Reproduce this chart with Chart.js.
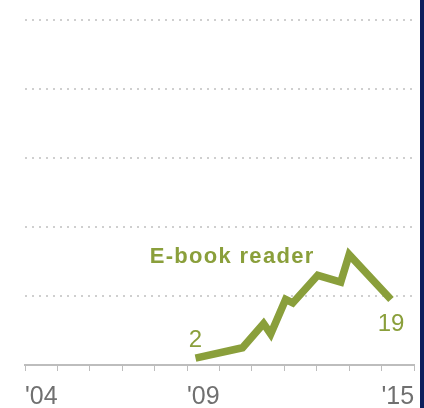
<!DOCTYPE html>
<html>
<head>
<meta charset="utf-8">
<script src="https://cdn.jsdelivr.net/npm/chart.js@4.4.1/dist/chart.umd.min.js"></script>
<style>
  html, body { margin: 0; padding: 0; background: #fff; overflow: hidden; }
  #wrap { position: relative; width: 424px; height: 408px; overflow: hidden; }
  #chart { position: absolute; left: 0; top: 0; }
  #edge { position: absolute; right: 0; top: 0; width: 4px; height: 408px; background: #0c1f5c; }
</style>
</head>
<body>
<div id="wrap">
  <canvas id="chart" width="424" height="408"></canvas>
  <div id="edge"></div>
</div>
<script>
// survey dates (fractional years) and share of adults owning an e-book reader (%)
var surveyYears = [2009.26, 2010.71, 2011.36, 2011.58, 2012.04, 2012.26, 2013.03, 2013.74, 2014.0, 2015.29];
var ereaderShare = [2, 5, 12, 9, 19, 18, 26, 24, 32, 19];
var yearTicks = { 2004: "'04", 2009: "'09", 2015: "'15" };
var seriesName = "E-book reader";

var green = "#8a9f3b";
var fontFamily = '"Liberation Sans", Arial, sans-serif';

var labelPlugin = {
    id: "endLabels",
    afterDatasetsDraw: function (chart) {
        var ctx = chart.ctx;
        var xs = chart.scales.x;
        var ys = chart.scales.y;
        var last = surveyYears.length - 1;
        ctx.save();
        ctx.fillStyle = green;
        ctx.textAlign = "center";
        ctx.textBaseline = "alphabetic";
        ctx.font = "24px " + fontFamily;
        ctx.fillText(String(ereaderShare[0]),
            xs.getPixelForValue(surveyYears[0]), ys.getPixelForValue(ereaderShare[0]) - 11);
        ctx.fillText(String(ereaderShare[last]),
            xs.getPixelForValue(surveyYears[last]), ys.getPixelForValue(ereaderShare[last]) + 32);
        ctx.font = "bold 22px " + fontFamily;
        ctx.letterSpacing = "1.3px";
        ctx.fillText(seriesName, xs.getPixelForValue(2010.39), ys.getPixelForValue(29.6));
        ctx.restore();
    }
};

var points = surveyYears.map(function (yr, i) {
    return { x: yr, y: ereaderShare[i] };
});

new Chart(document.getElementById("chart").getContext("2d"), {
    type: "line",
    data: {
        datasets: [{
            label: seriesName,
            data: points,
            borderColor: green,
            borderWidth: 7.5,
            pointRadius: 0,
            tension: 0,
            fill: false,
        }],
    },
    options: {
        responsive: false,
        animation: false,
        layout: { padding: { left: 25, right: 10, top: 20, bottom: 0 } },
        plugins: {
            legend: { display: false },
            tooltip: { enabled: false },
        },
        scales: {
            x: {
                type: "linear",
                min: 2004,
                max: 2016,
                afterFit: function (scale) {
                    // fixed axis band so the baseline sits where the original has it
                    scale.height = 43;
                    scale.paddingLeft = 0;
                    scale.paddingRight = 0;
                },
                ticks: {
                    stepSize: 1,
                    autoSkip: false,
                    maxRotation: 0,
                    align: "start",
                    padding: 14,
                    color: "#707070",
                    font: { size: 25, family: fontFamily, lineHeight: 1 },
                    callback: function (v) { return yearTicks[v] || ""; },
                },
                grid: {
                    drawOnChartArea: false,
                    tickLength: 6,
                    color: "#bdbdbd",
                    lineWidth: 1,
                },
                border: { color: "#bdbdbd", width: 2 },
            },
            y: {
                min: 0,
                max: 100,
                afterFit: function (scale) {
                    scale.width = 0;
                    scale.paddingTop = 0;
                    scale.paddingBottom = 0;
                },
                ticks: { stepSize: 20, display: false },
                grid: {
                    drawTicks: false,
                    lineWidth: 2,
                    color: function (c) { return c.tick.value === 0 ? "rgba(0,0,0,0)" : "#cfcfcf"; },
                },
                border: { display: false, dash: [2, 5] },
            },
        },
    },
    plugins: [labelPlugin],
});
</script>
</body>
</html>
